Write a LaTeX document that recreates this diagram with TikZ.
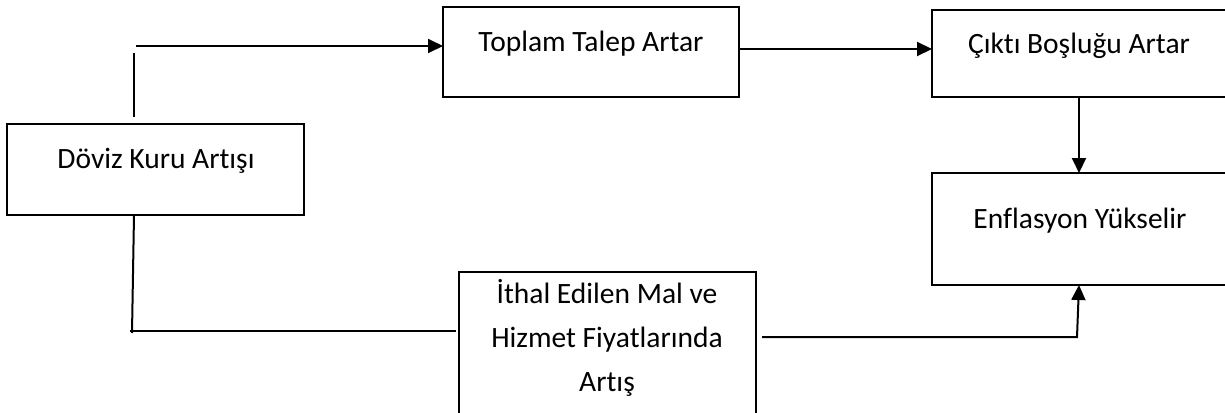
\documentclass[tikz,border=0pt]{standalone}
\usepackage{fontspec}
\setmainfont[Ligatures=NoCommon]{Carlito}
\usetikzlibrary{arrows.meta}
\tikzset{
  box/.style={draw, line width=1.4pt, inner sep=0pt, outer sep=0pt, anchor=north west},
  txt/.style={inner sep=0pt, anchor=base, align=center, font=\fontsize{29.5}{44}\selectfont},
  conn/.style={line width=2pt},
  arr/.style={line width=2pt, -{Triangle[length=15pt,width=14pt]}}
}
\begin{document}
\begin{tikzpicture}[x=1pt,y=-1pt]
\useasboundingbox[fill=white] (0,0) rectangle (1225,412);
% boxes
\node[box, minimum width=296pt, minimum height=90pt] (top) at (443,7) {};
\node[box, minimum width=294pt, minimum height=87pt] (cikti) at (932,10) {};
\node[box, minimum width=297pt, minimum height=91pt] (doviz) at (7,124) {};
\node[box, minimum width=294pt, minimum height=112pt] (enf) at (932,173) {};
\node[box, minimum width=297pt, minimum height=150pt] (ithal) at (459,272) {};
% texts
\node[txt] (topt) at (591,52) {Toplam Talep Artar};
\node[txt] (ciktit) at (1079,53) {Çıktı Boşluğu Artar};
\node[txt] (dovizt) at (156,168) {Döviz Kuru Artışı};
\node[txt] (enft) at (1080,228) {Enflasyon Yükselir};
\node[txt, anchor=north] (ithalt) at (607,279) {İthal Edilen Mal ve\\Hizmet Fiyatlarında\\Artış};
% connector coordinates
\coordinate (a1) at (134,117);
\coordinate (a2) at (134,53);
\coordinate (a3) at (136,46);
\coordinate (b1) at (739,49);
\coordinate (c1) at (134,215);
\coordinate (c2) at (132,333);
\coordinate (c3) at (130,331);
\coordinate (c4) at (456,331);
\coordinate (d1) at (762,337);
\coordinate (d2) at (1077,337);
% connectors
\draw[conn] (a1) -- (a2);
\draw[arr] (a3) -- (top.west |- a3);
\draw[arr] (b1) -- (cikti.west |- b1);
\draw[arr] (cikti.south) -- (enf.north);
\draw[conn] (c1) -- (c2);
\draw[conn] (c3) -- (c4);
\draw[arr] (d1) -- (d2) -- (enf.south);
\end{tikzpicture}
\end{document}
